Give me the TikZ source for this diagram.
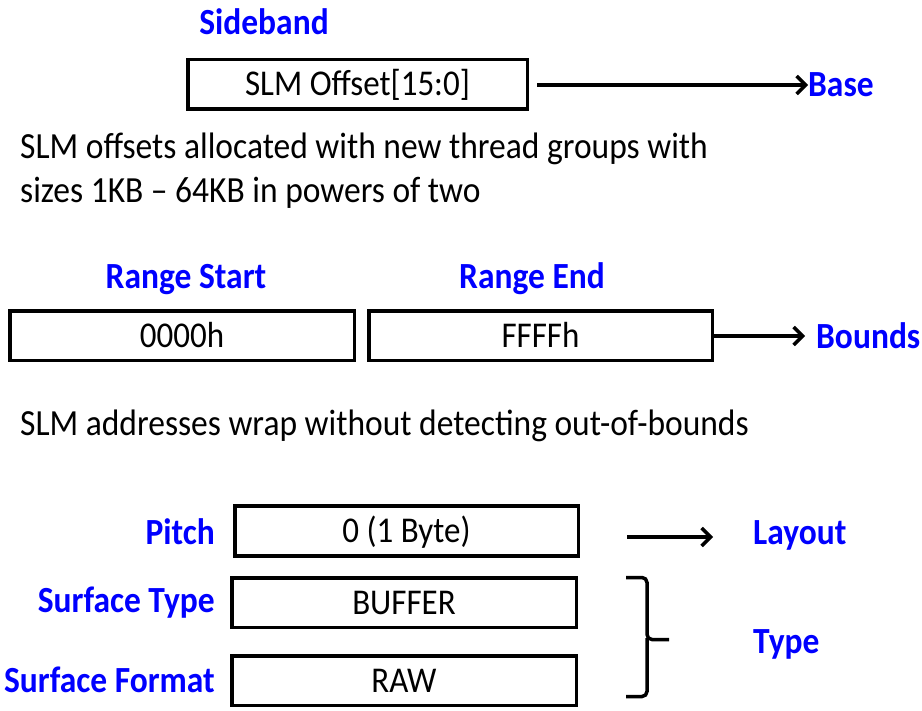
\documentclass[tikz,border=0pt]{standalone}
\usepackage{fontspec}
\usepackage{graphicx}
\setmainfont{Carlito}
\usetikzlibrary{arrows.meta}
\newcommand{\tall}[1]{\scalebox{1}[1.1]{#1}}
\begin{document}
\begin{tikzpicture}[x=1pt,y=-1pt,
  field/.style={draw=black,line width=3.5pt,minimum height=49.5pt,inner sep=0pt,text height=23pt,text depth=0pt,font=\fontsize{33}{36}\selectfont},
  lbl/.style={text=blue,font=\fontsize{33.5}{36}\selectfont\bfseries,inner sep=0pt},
  body/.style={font=\fontsize{33.5}{40}\selectfont,inner sep=0pt},
  conn/.style={line width=3.5pt,-{Straight Barb[length=9pt,width=18pt,line width=3.5pt]}}]
\useasboundingbox (0,0) rectangle (922,711);
% top section
\node[lbl,anchor=base] (sideband) at (264,35) {\tall{Sideband}};
\node[field,minimum width=339.5pt] (slm) at (357.5,84.5) {\tall{SLM Offset[15:0]}};
\node[lbl,anchor=base west] (base) at (808,97) {\tall{Base}};
\coordinate (a1) at (537,85);
\draw[conn] (a1) -- (base.west|-a1);
\node[body,anchor=base west] (t1) at (20,159) {\tall{SLM offsets allocated with new thread groups with}};
\node[body,anchor=base west] (t1b) at (20,203) {\tall{sizes 1KB -- 64KB in powers of two}};
% range section
\node[lbl,anchor=base] (rs) at (186,289) {\tall{Range Start}};
\node[lbl,anchor=base] (re) at (532,289) {\tall{Range End}};
\node[field,minimum width=344.5pt] (r0) at (182,336) {\tall{0000h}};
\node[field,minimum width=343.5pt] (r1) at (540.5,336) {\tall{FFFFh}};
\node[lbl,anchor=base west] (bounds) at (816,349) {\tall{Bounds}};
\draw[conn] (r1.east) -- ([xshift=-11pt]bounds.west|-r1.east);
\node[body,anchor=base west] (t2) at (20,436) {\tall{SLM addresses wrap without detecting out-of-bounds}};
% surface section
\node[field,minimum width=343.5pt] (pitch) at (406.5,531) {\tall{0 (1 Byte)}};
\node[field,minimum width=344.5pt] (buf) at (404,602.5) {\tall{BUFFER}};
\node[field,minimum width=344.5pt] (raw) at (404,680.5) {\tall{RAW}};
\node[lbl,anchor=base east] (lp) at (215,544) {\tall{Pitch}};
\node[lbl,anchor=base east] (lst) at (215,612) {\tall{Surface Type}};
\node[lbl,anchor=base east] (lsf) at (215,692) {\tall{Surface Format}};
\node[lbl,anchor=base west] (layout) at (753,544) {\tall{Layout}};
\node[lbl,anchor=base west] (type) at (753,653) {\tall{Type}};
\coordinate (la) at (627,537);
\coordinate (lb) at (713,537);
\draw[conn] (la) -- (lb);
% bracket
\draw[line width=3.5pt,rounded corners=5pt]
  (626,577.5) -- (647,577.5) -- (647,639.5) -- (669,639.5);
\draw[line width=3.5pt,rounded corners=5pt]
  (647,638) -- (647,696.5) -- (626,696.5);
\end{tikzpicture}
\end{document}
